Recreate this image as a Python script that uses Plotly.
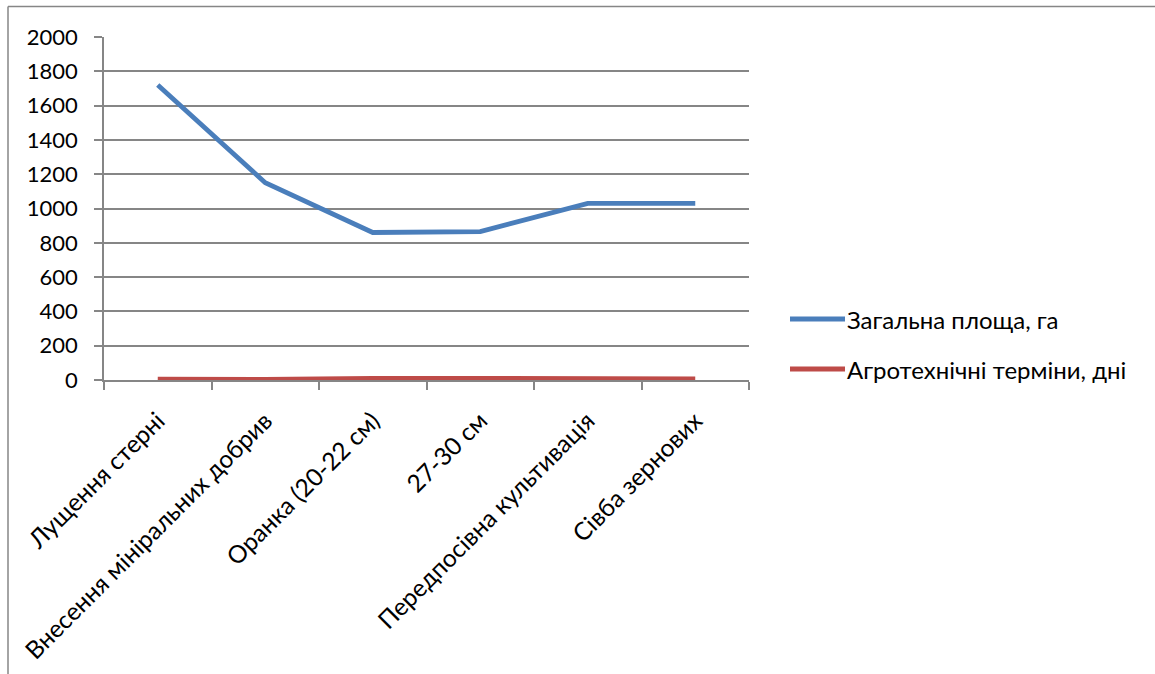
import plotly.graph_objects as go

categories = [
    "Лущення стерні",
    "Внесення мініральних добрив",
    "Оранка (20-22 см)",
    "27-30 см",
    "Передпосівна культивація",
    "Сівба зернових",
]
area_ha = [1720, 1150, 860, 865, 1030, 1030]
term_days = [5, 3, 10, 10, 10, 7]
series_names = ["Загальна площа, га", "Агротехнічні терміни, дні"]
series_colors = ["#4A7EBB", "#BE4B48"]
y_ticks = [0, 200, 400, 600, 800, 1000, 1200, 1400, 1600, 1800, 2000]

FONT = "Lato"
W, H = 1155, 674
L, R, T, B = 104, 406, 37, 294
GRID = "#868686"

fig = go.Figure()
for name, vals, col in zip(series_names, [area_ha, term_days], series_colors):
    fig.add_trace(go.Scatter(
        x=categories, y=vals, mode="lines", name=name,
        line=dict(color=col, width=4.8), showlegend=False,
    ))

fig.update_layout(
    width=W, height=H,
    margin=dict(l=L, r=R, t=T, b=B, autoexpand=False),
    paper_bgcolor="white", plot_bgcolor="white",
    font=dict(family=FONT, size=24, color="#000000"),
    xaxis=dict(
        type="category", tickangle=-45, tickson="boundaries",
        ticks="outside", ticklen=8, tickcolor=GRID, tickwidth=1.5,
        showline=True, linecolor=GRID, linewidth=1.5,
        showgrid=False, range=[-0.5, 5.5], automargin=False,
        tickfont=dict(size=24.5), ticklabelstandoff=15,
    ),
    yaxis=dict(
        range=[0, 2000], tickvals=y_ticks, automargin=False,
        ticks="outside", ticklen=8, tickcolor=GRID, tickwidth=1.5,
        showline=True, linecolor=GRID, linewidth=1.5,
        showgrid=True, gridcolor=GRID, gridwidth=1.5,
        zeroline=False, tickfont=dict(size=22), ticklabelstandoff=12,
    ),
)

pw, ph = W - L - R, H - T - B


def px(x):
    return (x - L) / pw


def py(y):
    return (H - B - y) / ph


# outer chart-area frame (left and top edges visible)
fig.add_shape(type="line", xref="paper", yref="paper",
              x0=px(8), x1=px(8), y0=py(6.5), y1=py(H + 5),
              line=dict(color=GRID, width=1.5))
fig.add_shape(type="line", xref="paper", yref="paper",
              x0=px(8), x1=px(W + 5), y0=py(6.5), y1=py(6.5),
              line=dict(color=GRID, width=1.5))

# legend to the right of the plot area
for i, (name, col) in enumerate(zip(series_names, series_colors)):
    yc = 319 + 50 * i
    fig.add_shape(type="line", xref="paper", yref="paper",
                  x0=px(790), x1=px(845), y0=py(yc), y1=py(yc),
                  line=dict(color=col, width=4.8))
    fig.add_annotation(xref="paper", yref="paper", x=px(845), y=py(yc),
                       text=name, showarrow=False, xanchor="left", yanchor="middle",
                       font=dict(family=FONT, size=24, color="#000000"))

fig.write_html("out.html")
